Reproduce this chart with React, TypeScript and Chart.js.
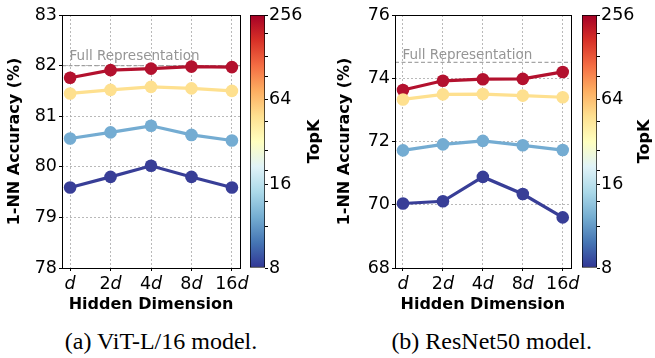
import React, { useEffect, useRef } from "react";
import { Chart, registerables } from "chart.js";
Chart.register(...registerables);

// ---------- data ----------
const xLabels = ["d", "2d", "4d", "8d", "16d"];
const topKValues = [8, 16, 64, 256];
const seriesColors = ["#383e97", "#74acd2", "#fee08f", "#b3112e"];

const vitK8 = [79.59, 79.8, 80.02, 79.8, 79.59];
const vitK16 = [80.56, 80.68, 80.81, 80.63, 80.52];
const vitK64 = [81.45, 81.52, 81.58, 81.55, 81.5];
const vitK256 = [81.76, 81.91, 81.94, 81.98, 81.97];
const vitFull = 82.0;
const vitYTicks = [78, 79, 80, 81, 82, 83];

const resK8 = [70.04, 70.11, 70.88, 70.34, 69.6];
const resK16 = [71.72, 71.91, 72.02, 71.88, 71.73];
const resK64 = [73.33, 73.49, 73.5, 73.45, 73.4];
const resK256 = [73.63, 73.92, 73.97, 73.98, 74.2];
const resFull = 74.5;
const resYTicks = [68, 70, 72, 74, 76];

const cbMajorPos = [0, 0.33, 0.665, 1];
const cbMinorPos = [0.163, 0.262, 0.387, 0.466, 0.578, 0.756, 0.835, 0.927];
const rdylbuR = [
  "#313695", "#4575b4", "#74add1", "#abd9e9", "#e0f3f8", "#ffffbf",
  "#fee090", "#fdae61", "#f46d43", "#d73027", "#a50026",
];

const FONT = "'DejaVu Sans', 'Noto Sans', sans-serif";
const TICK_SIZE = 17.5;

type PanelProps = {
  left: number;
  series: number[][];
  full: number;
  yTicks: number[];
  yAxisWidth: number;
  chartRight: number;
  cbLeft: number;
  cbWidth: number;
};

function Panel(p: PanelProps) {
  const lineRef = useRef<HTMLCanvasElement | null>(null);
  const cbRef = useRef<HTMLCanvasElement | null>(null);
  const W = 250;
  const H = 320;

  useEffect(() => {
    if (!lineRef.current || !cbRef.current) return;

    const datasets: any[] = p.series.map((vals, k) => ({
      label: "TopK " + topKValues[k],
      data: vals.map((v, i) => ({ x: i, y: v })),
      borderColor: seriesColors[k],
      backgroundColor: seriesColors[k],
      pointBackgroundColor: seriesColors[k],
      pointBorderWidth: 0,
      pointRadius: 6.3,
      borderWidth: 3.2,
      tension: 0,
    }));
    datasets.push({
      label: "Full Representation",
      data: [
        { x: -0.2, y: p.full },
        { x: 4.2, y: p.full },
      ],
      borderColor: "rgba(150,150,150,0.85)",
      borderWidth: 1.2,
      borderDash: [4, 2.5],
      pointRadius: 0,
    });

    const decor = {
      id: "decor",
      afterDraw(chart: any) {
        const { ctx, chartArea } = chart;
        const xs = chart.scales.x;
        const ys = chart.scales.y;
        ctx.save();
        ctx.font = `13.5px ${FONT}`;
        ctx.fillStyle = "#959595";
        ctx.textAlign = "left";
        ctx.textBaseline = "alphabetic";
        ctx.fillText("Full Representation", xs.getPixelForValue(0) - 0.5, ys.getPixelForValue(p.full + 0.1) - 0.5);
        ctx.strokeStyle = "#000";
        ctx.lineWidth = 1;
        ctx.strokeRect(
          Math.round(chartArea.left) + 0.5,
          Math.round(chartArea.top) + 0.5,
          Math.round(chartArea.right - chartArea.left),
          Math.round(chartArea.bottom - chartArea.top)
        );
        ctx.fillStyle = "#000";
        const reg = `${TICK_SIZE}px ${FONT}`;
        const ita = `italic ${TICK_SIZE}px ${FONT}`;
        xLabels.forEach((lab, i) => {
          const pre = lab.slice(0, -1);
          const suf = lab.slice(-1);
          ctx.font = reg;
          const w1 = ctx.measureText(pre).width;
          ctx.font = ita;
          const w2 = ctx.measureText(suf).width;
          const cx = xs.getPixelForValue(i);
          const x0 = cx - (w1 + w2) / 2;
          const y = chartArea.bottom + 20.5;
          ctx.textAlign = "left";
          ctx.font = reg;
          ctx.fillText(pre, x0, y);
          ctx.font = ita;
          ctx.fillText(suf, x0 + w1, y);
        });
        ctx.restore();
      },
    };

    const lineChart = new Chart(lineRef.current, {
      type: "line",
      data: { datasets },
      options: {
        animation: false,
        responsive: false,
        maintainAspectRatio: false,
        devicePixelRatio: 1,
        layout: { padding: { top: 15, right: W - p.chartRight, left: 0, bottom: 0 } },
        plugins: { legend: { display: false }, tooltip: { enabled: false } },
        scales: {
          x: {
            type: "linear",
            min: -0.2,
            max: 4.2,
            afterBuildTicks: (s: any) => {
              s.ticks = xLabels.map((_, i) => ({ value: i }));
            },
            afterFit: (s: any) => {
              s.height = H - 268;
            },
            ticks: { display: false },
            grid: {
              color: "#a8a8a8",
              lineWidth: 0.8,
              drawTicks: true,
              tickLength: 3,
              tickColor: "#000",
              tickWidth: 1,
            },
            border: { display: false, dash: [2, 2] },
            title: {
              display: true,
              text: "Hidden Dimension",
              color: "#000",
              font: { family: FONT, size: 16, weight: "bold", lineHeight: 1.2 },
              padding: { top: 0, bottom: 5.4 },
            },
          },
          y: {
            type: "linear",
            min: p.yTicks[0],
            max: p.yTicks[p.yTicks.length - 1],
            afterBuildTicks: (s: any) => {
              s.ticks = p.yTicks.map((v) => ({ value: v }));
            },
            afterFit: (s: any) => {
              s.width = p.yAxisWidth;
            },
            ticks: {
              color: "#000",
              padding: 2,
              font: { family: FONT, size: TICK_SIZE },
              callback: (v: any) => String(v),
            },
            grid: {
              color: "#a8a8a8",
              lineWidth: 0.8,
              drawTicks: true,
              tickLength: 3,
              tickColor: "#000",
              tickWidth: 1,
            },
            border: { display: false, dash: [2, 2] },
            title: {
              display: true,
              text: "1-NN Accuracy (%)",
              color: "#000",
              font: { family: FONT, size: 16, weight: "bold", lineHeight: 1.2 },
              padding: { top: 5.4, bottom: 0 },
            },
          },
        },
      },
      plugins: [decor],
    } as any);

    const cbTitle = {
      id: "cbTitle",
      afterDraw(chart: any) {
        const { ctx, chartArea } = chart;
        ctx.save();
        ctx.translate(chart.width - 8, (chartArea.top + chartArea.bottom) / 2);
        ctx.rotate(-Math.PI / 2);
        ctx.font = `bold 16px ${FONT}`;
        ctx.fillStyle = "#000";
        ctx.textAlign = "center";
        ctx.textBaseline = "middle";
        ctx.fillText("TopK", 0, 0);
        ctx.restore();
      },
    };

    const cbTicks = [...cbMajorPos, ...cbMinorPos].sort((a, b) => a - b);
    const cbChart = new Chart(cbRef.current, {
      type: "bar",
      data: {
        labels: ["TopK"],
        datasets: [
          {
            data: [[0, 1]],
            backgroundColor: (ctx: any) => {
              const area = ctx.chart.chartArea;
              if (!area) return rdylbuR[5];
              const g = ctx.chart.ctx.createLinearGradient(0, area.bottom, 0, area.top);
              rdylbuR.forEach((c, i) => g.addColorStop(i / (rdylbuR.length - 1), c));
              return g;
            },
            borderColor: "#000",
            borderWidth: 1,
            borderSkipped: false,
            barPercentage: 1,
            categoryPercentage: 1,
          },
        ],
      },
      options: {
        animation: false,
        responsive: false,
        maintainAspectRatio: false,
        devicePixelRatio: 1,
        layout: { padding: { top: 15, bottom: H - 268, left: 0, right: 0 } },
        plugins: { legend: { display: false }, tooltip: { enabled: false } },
        scales: {
          x: { display: false },
          y: {
            position: "right",
            min: 0,
            max: 1,
            afterBuildTicks: (s: any) => {
              s.ticks = cbTicks.map((v) => ({ value: v }));
            },
            afterFit: (s: any) => {
              s.width = p.cbWidth - 15;
            },
            ticks: {
              color: "#000",
              padding: 1,
              autoSkip: false,
              maxRotation: 0,
              font: { family: FONT, size: TICK_SIZE },
              callback: (v: any) => {
                const idx = cbMajorPos.findIndex((m) => Math.abs(m - v) < 1e-6);
                return idx >= 0 ? String(topKValues[idx]) : "";
              },
            },
            grid: {
              drawOnChartArea: false,
              drawTicks: true,
              tickLength: 3,
              tickColor: "#000",
              tickWidth: 1,
            },
            border: { display: false },
            title: { display: false },
          },
        },
      },
      plugins: [cbTitle],
    } as any);

    return () => {
      lineChart.destroy();
      cbChart.destroy();
    };
  }, []);

  return (
    <>
      <canvas
        ref={lineRef}
        width={W}
        height={H}
        style={{ position: "absolute", left: p.left, top: 0, width: W, height: H }}
      />
      <canvas
        ref={cbRef}
        width={p.cbWidth}
        height={H}
        style={{ position: "absolute", left: p.cbLeft, top: 0, width: p.cbWidth, height: H }}
      />
    </>
  );
}

const captionStyle: React.CSSProperties = {
  position: "absolute",
  top: 329,
  width: 260,
  textAlign: "center",
  fontFamily: "'Liberation Serif', 'Times New Roman', serif",
  fontSize: 24,
  lineHeight: "24px",
  color: "#000",
  whiteSpace: "nowrap",
};

export default function App() {
  return (
    <div
      style={{
        position: "fixed",
        left: 0,
        top: 0,
        width: 655,
        height: 358,
        background: "#fff",
        overflow: "hidden",
      }}
    >
      <Panel
        left={0}
        series={[vitK8, vitK16, vitK64, vitK256]}
        full={vitFull}
        yTicks={vitYTicks}
        yAxisWidth={62}
        chartRight={240}
        cbLeft={250}
        cbWidth={73}
      />
      <Panel
        left={330}
        series={[resK8, resK16, resK64, resK256]}
        full={resFull}
        yTicks={resYTicks}
        yAxisWidth={65}
        chartRight={240.7}
        cbLeft={582}
        cbWidth={71}
      />
      <div style={{ ...captionStyle, left: 161 - 130 }}>(a) ViT-L/16 model.</div>
      <div style={{ ...captionStyle, left: 491.7 - 130 }}>(b) ResNet50 model.</div>
    </div>
  );
}
